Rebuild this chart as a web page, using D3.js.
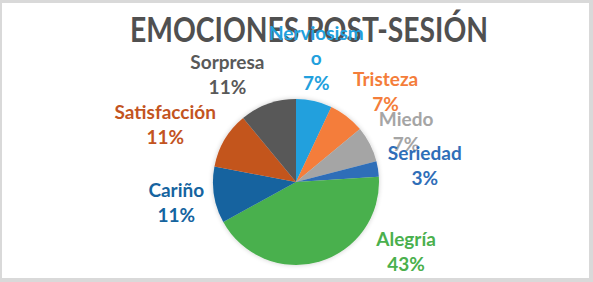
<!DOCTYPE html>
<html>
<head>
<meta charset="utf-8">
<script src="https://cdn.jsdelivr.net/npm/d3@7"></script>
<style>
  html, body { margin: 0; padding: 0; background: #fff; }
  svg { display: block; }
  text { font-family: Lato, "Open Sans", sans-serif; font-weight: bold; }
</style>
</head>
<body>
<div id="chart"></div>
<script>
const title = 'EMOCIONES POST-SESIÓN';
const categories = ['Nerviosismo', 'Tristeza', 'Miedo', 'Seriedad', 'Alegría', 'Cariño', 'Satisfacción', 'Sorpresa'];
const values = [7, 7, 7, 3, 43, 11, 11, 11];
// etiquetas tal como salen en el gráfico (Nerviosismo partido en dos)
const labelNames = [['Nerviosism', 'o'], ['Tristeza'], ['Miedo'], ['Seriedad'], ['Alegría'], ['Cariño'], ['Satisfacción'], ['Sorpresa']];
const colors = ['#22a0dd', '#f47d3a', '#a5a5a5', '#2f6eb8', '#4ab04d', '#15649f', '#c3541f', '#595959'];

const width = 593, height = 282;
const cx = 296, cy = 182, radius = 83;
const lineH = 25;

const svg = d3.select('#chart')
    .append('svg')
    .attr('width', width)
    .attr('height', height);

// marco
svg.append('rect').attr('width', width).attr('height', height).attr('fill', '#d9d9d9');
svg.append('rect').attr('x', 2).attr('y', 3).attr('width', 587).attr('height', 275).attr('fill', '#fff');

const defs = svg.append('defs');
const f = defs.append('filter').attr('id', 'soft').attr('x', '-20%').attr('y', '-20%').attr('width', '140%').attr('height', '140%');
f.append('feGaussianBlur').attr('in', 'SourceAlpha').attr('stdDeviation', 2.5);
f.append('feComponentTransfer').append('feFuncA').attr('type', 'linear').attr('slope', 0.2);
const fm = f.append('feMerge');
fm.append('feMergeNode');
fm.append('feMergeNode').attr('in', 'SourceGraphic');

// titulo
svg.append('text')
    .attr('x', 309)
    .attr('y', 42)
    .attr('text-anchor', 'middle')
    .attr('fill', '#505050')
    .style('font-size', '35px')
    .attr('textLength', 358)
    .attr('lengthAdjust', 'spacingAndGlyphs')
    .text(title);

const data = categories.map((c, i) => ({ name: c, value: values[i], lines: labelNames[i], color: colors[i] }));

const pie = d3.pie().sort(null).value(d => d.value);
const arc = d3.arc().innerRadius(0).outerRadius(radius);
const arcs = pie(data);

const g = svg.append('g').attr('transform', `translate(${cx}, ${cy})`);
g.append('g')
    .attr('filter', 'url(#soft)')
    .selectAll('path')
    .data(arcs)
    .enter()
    .append('path')
    .attr('d', arc)
    .attr('fill', d => d.data.color);

// etiquetas fuera del sector, estilo "extremo externo"
const total = d3.sum(values);
const fmt = v => Math.round(v / total * 100) + '%';
const gap = 10, r = radius + gap;
const bottomLimit = 276;

const labels = svg.append('g')
    .selectAll('text')
    .data(arcs)
    .enter()
    .append('text')
    .attr('text-anchor', 'middle')
    .attr('fill', d => d.data.color)
    .style('font-size', '19px');

labels.each(function (d) {
    const t = d3.select(this);
    const lines = d.data.lines.concat([fmt(d.data.value)]);
    lines.forEach((l, i) => {
        t.append('tspan').attr('x', 0).attr('dy', i === 0 ? 0 : lineH).text(l);
    });
    let w = 0;
    t.selectAll('tspan').each(function () { w = Math.max(w, this.getComputedTextLength()); });
    const h = (lines.length - 1) * lineH + 22;

    const a = (d.startAngle + d.endAngle) / 2;
    const dx = Math.sin(a), dy = -Math.cos(a);
    const px = cx + r * dx, py = cy + r * dy;
    let lx = Math.abs(dx) < 0.3 ? px : px + Math.sign(dx) * w / 2;
    let ly = py + dy * h / 2 + 3;
    if (ly + h / 2 > bottomLimit) {
        ly = bottomLimit - h / 2;
        const top = ly - h / 2;
        const ddy = Math.max(0, top - cy);
        const edge = Math.sqrt(Math.max(0, r * r - ddy * ddy));
        lx = cx + Math.sign(dx) * (edge + w / 2);
    }
    const baseline = ly - h / 2 + 17;
    t.attr('transform', `translate(${lx}, ${baseline})`);
});
</script>
</body>
</html>
